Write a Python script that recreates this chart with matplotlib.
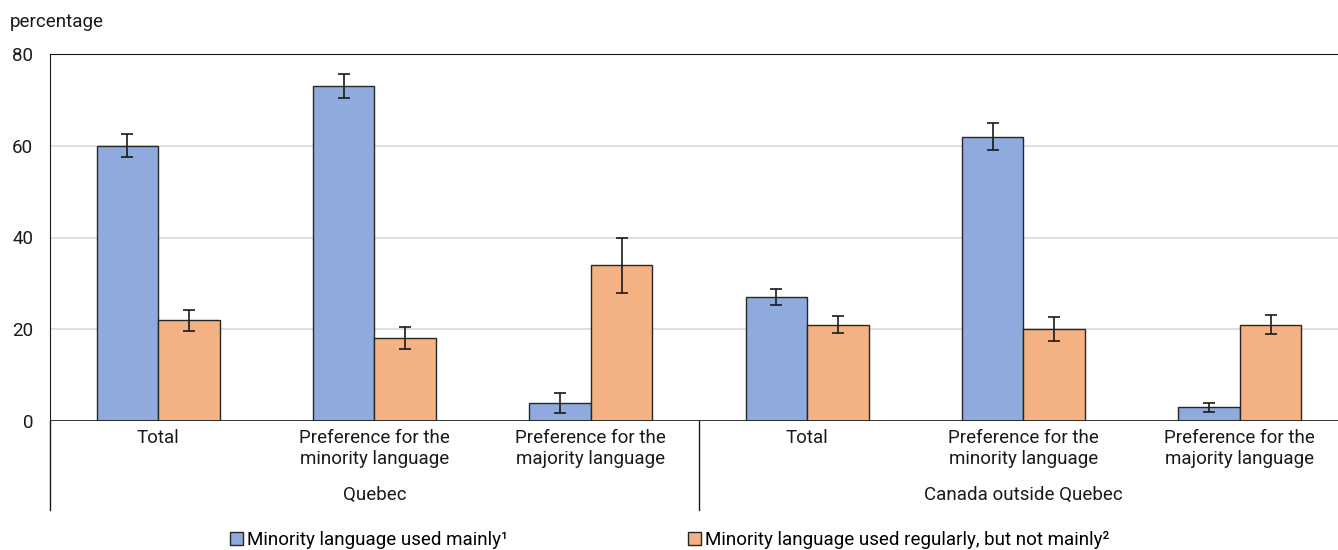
import matplotlib
matplotlib.use('Agg')
import matplotlib.pyplot as plt
import matplotlib.transforms as mtransforms
import numpy as np

plt.rcParams['font.family'] = ['Roboto', 'DejaVu Sans']

# data
categories = ['Total', 'Preference for the\nminority language', 'Preference for the\nmajority language',
              'Total', 'Preference for the\nminority language', 'Preference for the\nmajority language']
groups = ['Quebec', 'Canada outside Quebec']
mainly = [60, 73, 4, 27, 62, 3]
mainly_err = [2.5, 2.6, 2.2, 1.7, 3.0, 1.0]
regularly = [22, 18, 34, 21, 20, 21]
regularly_err = [2.3, 2.4, 6.0, 1.8, 2.6, 2.1]
series_names = ['Minority language used mainly\u00b9', 'Minority language used regularly, but not mainly\u00b2']

blue = '#8FAADC'
orange = '#F4B183'
ink = '#1a1a1a'
fs = 13.5

fig = plt.figure(figsize=(13.38, 5.5), dpi=100)
ax = fig.add_axes([50/1338, 129/550, 1 - 50/1338, 367/550])

x = np.arange(len(categories))
w = 0.285
err_kw = dict(ecolor=ink, elinewidth=1.2, capsize=4, capthick=1.2)
b1 = ax.bar(x - w/2, mainly, w, color=blue, edgecolor='#262626', linewidth=1,
            yerr=mainly_err, error_kw=err_kw, zorder=3, label=series_names[0])
b2 = ax.bar(x + w/2, regularly, w, color=orange, edgecolor='#262626', linewidth=1,
            yerr=regularly_err, error_kw=err_kw, zorder=3, label=series_names[1])

ax.set_ylim(0, 80)
ax.set_xlim(-0.5, 5.5 - 10/216.5)
ax.set_yticks([0, 20, 40, 60, 80])
ax.yaxis.grid(True, color='#d9d9d9', linewidth=1.2, zorder=0)
ax.set_axisbelow(True)
ax.tick_params(axis='y', length=0, pad=12, labelsize=fs, colors=ink)
ax.set_xticks(x)
ax.set_xticklabels(categories, fontsize=fs, color=ink, linespacing=1.2)
ax.tick_params(axis='x', length=0, pad=6)

for s in ['right', 'bottom']:
    ax.spines[s].set_visible(False)
ax.spines['top'].set_color(ink)
ax.spines['left'].set_color(ink)
ax.axhline(0, color=ink, linewidth=1.2, zorder=4)

# group separators and group labels below the category axis
depth = -(510 - 421) / 367
trans = mtransforms.blended_transform_factory(ax.transData, ax.transAxes)
ax.plot([-0.5, -0.5], [0, depth], transform=trans, color=ink, lw=1, clip_on=False)
ax.plot([2.5, 2.5], [0, depth], transform=trans, color=ink, lw=1, clip_on=False)
for gx, name in zip([1, 4], groups):
    ax.text(gx, -(495 - 421) / 367, name, transform=trans, ha='center', va='center',
            fontsize=fs, color=ink)

fig.text(10/1338, 1 - 22/550, 'percentage', fontsize=fs, color=ink, va='center')

fig.legend(handles=[b1, b2], labels=series_names, loc='center left',
           bbox_to_anchor=(230/1338, 1 - 540/550), ncol=2, frameon=False,
           fontsize=fs, handlelength=0.7, handleheight=0.7, handletextpad=0.2,
           columnspacing=9.6, borderpad=0, borderaxespad=0)

fig.savefig('out.png', dpi=100)
